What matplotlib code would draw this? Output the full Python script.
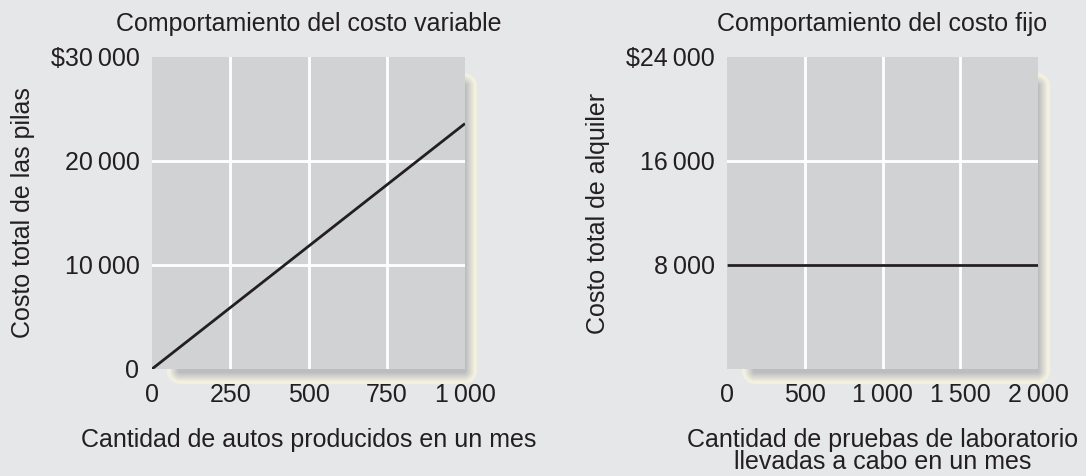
import numpy as np
import matplotlib.pyplot as plt

plt.rcParams['font.family'] = ['Liberation Sans', 'DejaVu Sans']

# datos
var_x = [0, 1000]
var_y = [0, 23600]
var_xticks = [0, 250, 500, 750, 1000]
var_xlabels = ['0', '250', '500', '750', '1\u2009000']
var_yticks = [0, 10000, 20000, 30000]
var_ylabels = ['0', '10\u2009000', '20\u2009000', '$30\u2009000']

fijo_x = [0, 2000]
fijo_y = [8000, 8000]
fijo_xticks = [0, 500, 1000, 1500, 2000]
fijo_xlabels = ['0', '500', '1\u2009000', '1\u2009500', '2\u2009000']
fijo_yticks = [8000, 16000, 24000]
fijo_ylabels = ['8\u2009000', '16\u2009000', '$24\u2009000']

bg = '#e6e7e9'
panel = '#d1d2d4'
ink = '#231f20'
crema = np.array([0xf3, 0xf0, 0xe0]) / 255
gris = np.array([0xbc, 0xbd, 0xbf]) / 255

W, H = 1086, 476
fig = plt.figure(figsize=(W / 100, H / 100), dpi=100, facecolor=bg)

fondo = fig.add_axes([0, 0, 1, 1], zorder=0)
fondo.axis('off')


def sombra(x0, y0, x1, y1, r=13):
    # sombra redondeada desplazada, crema en el borde y gris hacia dentro
    sx0, sy0, sx1, sy1 = x0 + 15, y0 + 16, x1 + 12, y1 + 15
    xs = np.arange(sx0 - 2, sx1 + 2) + 0.5
    ys = np.arange(sy0 - 2, sy1 + 2) + 0.5
    px, py = np.meshgrid(xs, ys)
    cx, cy = (sx0 + sx1) / 2, (sy0 + sy1) / 2
    hx, hy = (sx1 - sx0) / 2 - r, (sy1 - sy0) / 2 - r
    qx = np.abs(px - cx) - hx
    qy = np.abs(py - cy) - hy
    d = np.hypot(np.maximum(qx, 0), np.maximum(qy, 0)) + np.minimum(np.maximum(qx, qy), 0) - r
    d = -d
    t = np.clip((d - 2.5) / 9, 0, 1)[..., None]
    rgb = crema * (1 - t) + gris * t
    a = np.clip(d + 0.5, 0, 1)[..., None]
    img = np.concatenate([rgb, a], axis=2)
    fondo.imshow(img, extent=(xs[0] - 0.5, xs[-1] + 0.5, ys[-1] + 0.5, ys[0] - 0.5),
                 interpolation='bilinear')
    fondo.set_xlim(0, W)
    fondo.set_ylim(H, 0)


def panel_ax(px0, py0, px1, py1):
    return fig.add_axes([px0 / W, 1 - py1 / H, (px1 - px0) / W, (py1 - py0) / H], zorder=2)


def estilo(ax, xt, xl, yt, yl, xmax, ymax):
    ax.set_facecolor(panel)
    for s in ax.spines.values():
        s.set_visible(False)
    ax.set_xlim(0, xmax)
    ax.set_ylim(0, ymax)
    ax.set_xticks(xt)
    ax.set_xticklabels(xl, fontsize=18, color=ink)
    ax.set_yticks(yt)
    ax.set_yticklabels(yl, fontsize=18, color=ink)
    ax.tick_params(length=0)
    ax.tick_params(axis='x', pad=10)
    ax.tick_params(axis='y', pad=9)
    for v in xt[1:-1]:
        ax.axvline(v, color='white', lw=2, zorder=1)
    for v in yt:
        if 0 < v < ymax:
            ax.axhline(v, color='white', lw=2, zorder=1)


# panel izquierdo
sombra(152, 57, 465, 369)
ax1 = panel_ax(152, 57, 465, 369)
estilo(ax1, var_xticks, var_xlabels, var_yticks, var_ylabels, 1000, 30000)
ax1.plot(var_x, var_y, color=ink, lw=2, zorder=3, solid_capstyle='butt')
ax1.set_title('Comportamiento del costo variable', fontsize=18, color=ink, pad=19)
ax1.set_xlabel('Cantidad de autos producidos en un mes', fontsize=18, color=ink, labelpad=15)
ax1.set_ylabel('Costo total de las pilas', fontsize=18, color=ink, labelpad=11)

# panel derecho
sombra(727, 57, 1038, 369)
ax2 = panel_ax(727, 57, 1038, 369)
estilo(ax2, fijo_xticks, fijo_xlabels, fijo_yticks, fijo_ylabels, 2000, 24000)
ax2.plot(fijo_x, fijo_y, color=ink, lw=2, zorder=3, solid_capstyle='butt')
ax2.set_title('Comportamiento del costo fijo', fontsize=18, color=ink, pad=19)
ax2.set_xlabel('Cantidad de pruebas de laboratorio\nllevadas a cabo en un mes',
               fontsize=18, color=ink, labelpad=15, linespacing=0.9)
ax2.set_ylabel('Costo total de alquiler', fontsize=18, color=ink, labelpad=11)

fig.savefig('out.png', dpi=100, facecolor=bg)
